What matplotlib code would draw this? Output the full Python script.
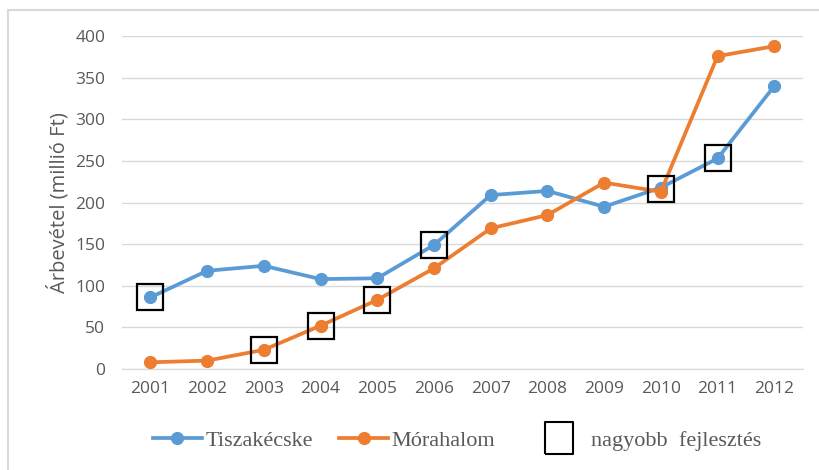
import matplotlib.pyplot as plt
from matplotlib.lines import Line2D
from matplotlib.patches import Rectangle

years = ['2001', '2002', '2003', '2004', '2005', '2006',
         '2007', '2008', '2009', '2010', '2011', '2012']
tiszakecske = [86, 118, 124, 108, 109, 149, 209, 214, 195, 218, 253, 340]
morahalom = [8, 10, 23, 52, 83, 121, 169, 185, 224, 213, 376, 388]

# years with a larger development (square markers)
dev_idx = [0, 2, 3, 4, 5, 9, 10]
dev_val = [86, 23, 52, 83, 149, 216, 253]

blue = '#5b9bd5'
orange = '#ed7d31'
grey = '#595959'

fig = plt.figure(figsize=(8.19, 4.70), dpi=100)
ax = fig.add_axes([0.149, 0.215, 0.831, 0.708])

x = list(range(len(years)))
ax.plot(x, tiszakecske, color=blue, lw=2.7, marker='o', ms=8.5, zorder=3)
ax.plot(x, morahalom, color=orange, lw=2.7, marker='o', ms=8.5, zorder=3)
ax.plot(dev_idx, dev_val, ls='none', marker='s', ms=19, mfc='none',
        mec='black', mew=1.6, zorder=4)

ax.set_xlim(-0.5, len(years) - 0.5)
ax.set_ylim(0, 400)
ax.set_yticks(range(0, 401, 50))
ax.set_xticks(x)
ax.set_xticklabels(years)
ax.grid(axis='y', color='#d9d9d9', lw=1)
ax.set_axisbelow(True)
for s in ['top', 'right', 'left']:
    ax.spines[s].set_visible(False)
ax.spines['bottom'].set_color('#d9d9d9')
ax.tick_params(length=0, labelsize=12.5, labelcolor=grey)
ax.tick_params(axis='x', pad=9)
ax.tick_params(axis='y', pad=12)
for lab in ax.get_xticklabels() + ax.get_yticklabels():
    lab.set_family('Open Sans')
ax.set_ylabel('Árbevétel (millió Ft)', fontsize=14.5, color=grey,
              family='Open Sans', labelpad=4)

# legend
lprop = {'family': 'Liberation Serif', 'size': 16}
h1 = [Line2D([], [], color=blue, lw=2.7, marker='o', ms=8.5),
      Line2D([], [], color=orange, lw=2.7, marker='o', ms=8.5)]
leg1 = fig.legend(h1, ['Tiszakécske', 'Mórahalom'], loc='center left',
                  bbox_to_anchor=(153 / 819, 0.062), ncol=2, frameon=False,
                  handlelength=2.2, handletextpad=0.15, columnspacing=1.2,
                  borderpad=0, borderaxespad=0, prop=lprop, labelcolor=grey)
box = [(-0.4375, -0.5), (0.4375, -0.5), (0.4375, 0.5), (-0.4375, 0.5),
       (-0.4375, -0.5)]
h2 = [Line2D([], [], ls='none', marker=box, ms=23, mfc='none',
             mec='black', mew=1.5)]
leg2 = fig.legend(h2, ['nagyobb  fejlesztés'], loc='center left',
                  bbox_to_anchor=(542 / 819, 0.062), frameon=False,
                  handlelength=1.5, handletextpad=0.7,
                  borderpad=0, borderaxespad=0, prop=lprop, labelcolor=grey)

# light border around the chart
fig.patches.append(Rectangle((8 / 819, -0.05), 1.0, 1 - 10 / 470 + 0.05,
                             transform=fig.transFigure, fill=False,
                             ec='#d9d9d9', lw=1.5))

fig.savefig('out.png', dpi=100)
